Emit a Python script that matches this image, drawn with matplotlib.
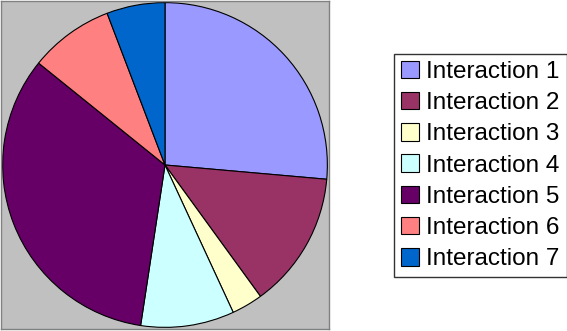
import matplotlib.pyplot as plt

labels = ["Interaction 1", "Interaction 2", "Interaction 3", "Interaction 4",
          "Interaction 5", "Interaction 6", "Interaction 7"]
values = [26.4, 13.6, 3.1, 9.3, 33.4, 8.4, 5.8]
colors = ["#9999FF", "#993366", "#FFFFCC", "#CCFFFF",
          "#660066", "#FF8080", "#0066CC"]

plt.rcParams["font.family"] = ["Liberation Sans", "DejaVu Sans"]

fig = plt.figure(figsize=(5.67, 3.31), dpi=100)

# grijs plotvlak met de taart
ax = fig.add_axes([1 / 567, 2 / 331, 328 / 567, 328 / 331])
wedges, _ = ax.pie(values, colors=colors, startangle=90, counterclock=False,
                   radius=0.99,
                   wedgeprops=dict(edgecolor="black", linewidth=0.8))
ax.set_xlim(-1, 1)
ax.set_ylim(-1, 1)
ax.set_aspect("equal")
ax.set_frame_on(True)
ax.set_facecolor("#C0C0C0")
ax.set_xticks([])
ax.set_yticks([])
for s in ax.spines.values():
    s.set_color("#808080")
    s.set_linewidth(1)

# legenda rechts
leg = fig.legend(wedges, labels, loc="center left",
                 bbox_to_anchor=(394 / 567, 0.5),
                 fontsize=17.5, frameon=True, fancybox=False,
                 handlelength=0.73, handleheight=0.73,
                 handletextpad=0.32, labelspacing=0.37,
                 borderpad=0.28, borderaxespad=0)
leg.get_frame().set_edgecolor("black")
leg.get_frame().set_linewidth(1)

fig.savefig("out.png", dpi=100)
